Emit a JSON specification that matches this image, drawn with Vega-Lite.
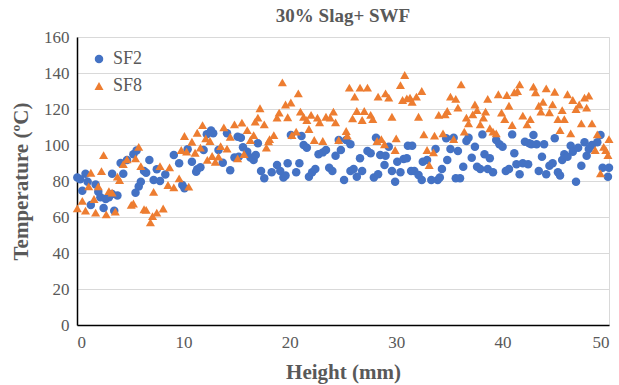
{
"$schema": "https://vega.github.io/schema/vega-lite/v6.json",
"autosize": {"type": "none"},
"width": 532,
"height": 288,
"padding": {"left": 77, "top": 37, "right": 10, "bottom": 60},
"background": "white",
"title": {"text": "30% Slag+ SWF", "font": "Liberation Serif", "fontSize": 19, "fontWeight": "bold", "color": "#595959", "offset": 2},
"config": {"view": {"stroke": "#d9d9d9"}},
"data": {"values": [
{"s":"SF2","h":0.03,"t":82},{"s":"SF2","h":0.3,"t":81},{"s":"SF2","h":0.8,"t":84},{"s":"SF2","h":1.0,"t":79.6},{"s":"SF2","h":0.5,"t":74.6},{"s":"SF2","h":1.75,"t":78},{"s":"SF2","h":2.0,"t":74},{"s":"SF2","h":2.2,"t":71},{"s":"SF2","h":2.7,"t":70},{"s":"SF2","h":3.0,"t":71},{"s":"SF2","h":3.3,"t":72.8},{"s":"SF2","h":3.8,"t":72},{"s":"SF2","h":1.3,"t":66.7},{"s":"SF2","h":2.5,"t":65},{"s":"SF2","h":3.5,"t":63.5},{"s":"SF2","h":3.3,"t":84},{"s":"SF2","h":4.1,"t":90},{"s":"SF2","h":4.35,"t":84},{"s":"SF2","h":4.7,"t":91.7},{"s":"SF2","h":5.3,"t":94.8},{"s":"SF2","h":5.6,"t":97},{"s":"SF2","h":6.8,"t":91.7},{"s":"SF2","h":6.3,"t":85.5},{"s":"SF2","h":6.5,"t":84.6},{"s":"SF2","h":6.0,"t":79.6},{"s":"SF2","h":5.8,"t":77},{"s":"SF2","h":5.5,"t":73.5},{"s":"SF2","h":7.2,"t":80.5},{"s":"SF2","h":7.5,"t":86.5},{"s":"SF2","h":7.8,"t":80},{"s":"SF2","h":8.3,"t":83.6},
{"s":"SF2","h":9.1,"t":94.4},{"s":"SF2","h":9.6,"t":89.8},{"s":"SF2","h":9.9,"t":77.8},{"s":"SF2","h":10.1,"t":76},{"s":"SF2","h":10.4,"t":97.6},{"s":"SF2","h":10.8,"t":90.7},{"s":"SF2","h":11.2,"t":85.2},{"s":"SF2","h":11.3,"t":86.5},{"s":"SF2","h":11.6,"t":87.6},{"s":"SF2","h":11.9,"t":97.2},{"s":"SF2","h":12.2,"t":106},{"s":"SF2","h":12.6,"t":108},{"s":"SF2","h":12.8,"t":106.5},{"s":"SF2","h":13.3,"t":97.2},{"s":"SF2","h":13.7,"t":90.2},{"s":"SF2","h":14.1,"t":106.5},{"s":"SF2","h":14.4,"t":86},{"s":"SF2","h":14.8,"t":93},{"s":"SF2","h":15.1,"t":104.6},{"s":"SF2","h":15.4,"t":104},{"s":"SF2","h":15.6,"t":98.7},{"s":"SF2","h":16.0,"t":96.3},{"s":"SF2","h":16.3,"t":93},{"s":"SF2","h":16.6,"t":91.7},{"s":"SF2","h":15.2,"t":93.5},
{"s":"SF2","h":17.0,"t":101},{"s":"SF2","h":16.8,"t":94.4},{"s":"SF2","h":17.3,"t":85.5},{"s":"SF2","h":17.6,"t":81.5},{"s":"SF2","h":18.3,"t":84.8},{"s":"SF2","h":18.8,"t":88.9},{"s":"SF2","h":19.1,"t":85.5},{"s":"SF2","h":19.4,"t":81.9},{"s":"SF2","h":19.6,"t":83},{"s":"SF2","h":19.8,"t":89.8},{"s":"SF2","h":20.1,"t":105.5},{"s":"SF2","h":20.6,"t":84.8},{"s":"SF2","h":20.9,"t":89.8},{"s":"SF2","h":21.1,"t":105},{"s":"SF2","h":21.3,"t":100},{"s":"SF2","h":21.6,"t":98.5},{"s":"SF2","h":21.8,"t":82.4},{"s":"SF2","h":22.1,"t":84.8},{"s":"SF2","h":22.4,"t":86.7},{"s":"SF2","h":22.7,"t":94.8},{"s":"SF2","h":23.1,"t":95.9},{"s":"SF2","h":23.4,"t":97.2},{"s":"SF2","h":23.7,"t":87.4},{"s":"SF2","h":24.0,"t":85.5},{"s":"SF2","h":24.3,"t":94},{"s":"SF2","h":24.6,"t":102.8},{"s":"SF2","h":24.8,"t":97.2},{"s":"SF2","h":25.1,"t":80.5},
{"s":"SF2","h":25.3,"t":102.8},{"s":"SF2","h":25.7,"t":100.4},{"s":"SF2","h":25.7,"t":85.5},{"s":"SF2","h":26.0,"t":86.7},{"s":"SF2","h":26.3,"t":82.4},{"s":"SF2","h":26.8,"t":85.5},{"s":"SF2","h":26.6,"t":92.6},{"s":"SF2","h":27.3,"t":96.7},{"s":"SF2","h":27.6,"t":95.4},{"s":"SF2","h":28.1,"t":104},{"s":"SF2","h":27.9,"t":81.9},{"s":"SF2","h":28.3,"t":83.7},{"s":"SF2","h":28.5,"t":94.4},{"s":"SF2","h":29.0,"t":94},{"s":"SF2","h":28.9,"t":88.9},{"s":"SF2","h":29.3,"t":99},{"s":"SF2","h":29.6,"t":85.5},{"s":"SF2","h":29.9,"t":79.6},{"s":"SF2","h":30.1,"t":90.7},{"s":"SF2","h":30.4,"t":84.8},{"s":"SF2","h":30.7,"t":92.2},{"s":"SF2","h":31.0,"t":92.6},{"s":"SF2","h":31.1,"t":99.6},{"s":"SF2","h":31.5,"t":99.6},{"s":"SF2","h":31.4,"t":85.5},{"s":"SF2","h":31.7,"t":85.5},{"s":"SF2","h":32.1,"t":83.3},{"s":"SF2","h":32.4,"t":80.5},{"s":"SF2","h":32.5,"t":90.7},{"s":"SF2","h":32.9,"t":91.7},{"s":"SF2","h":33.3,"t":80.5},
{"s":"SF2","h":33.7,"t":97.8},{"s":"SF2","h":33.9,"t":80.5},{"s":"SF2","h":34.1,"t":81.9},{"s":"SF2","h":34.3,"t":86.7},{"s":"SF2","h":34.8,"t":91.7},{"s":"SF2","h":35.1,"t":97.8},{"s":"SF2","h":34.7,"t":103.7},{"s":"SF2","h":35.4,"t":104},{"s":"SF2","h":35.8,"t":96.7},{"s":"SF2","h":35.6,"t":81.5},{"s":"SF2","h":36.0,"t":81.5},{"s":"SF2","h":36.3,"t":87.9},{"s":"SF2","h":36.6,"t":102.2},{"s":"SF2","h":36.8,"t":104},{"s":"SF2","h":37.1,"t":92.9},{"s":"SF2","h":37.4,"t":99},{"s":"SF2","h":37.6,"t":87.9},{"s":"SF2","h":37.9,"t":86.7},{"s":"SF2","h":38.1,"t":105.9},{"s":"SF2","h":38.3,"t":94.8},{"s":"SF2","h":38.6,"t":86.7},{"s":"SF2","h":38.8,"t":92.6},{"s":"SF2","h":39.1,"t":84.8},{"s":"SF2","h":39.4,"t":102.8},{"s":"SF2","h":39.7,"t":100.4},{"s":"SF2","h":40.0,"t":99},{"s":"SF2","h":40.3,"t":85.5},{"s":"SF2","h":40.6,"t":86.7},{"s":"SF2","h":40.9,"t":105.9},{"s":"SF2","h":41.1,"t":95.4},{"s":"SF2","h":41.3,"t":89.3},{"s":"SF2","h":41.6,"t":83.7},{"s":"SF2","h":41.9,"t":89.8},{"s":"SF2","h":42.1,"t":101.8},
{"s":"SF2","h":42.5,"t":101},{"s":"SF2","h":42.9,"t":105.5},{"s":"SF2","h":42.7,"t":100.4},{"s":"SF2","h":43.2,"t":100.4},{"s":"SF2","h":43.7,"t":93.5},{"s":"SF2","h":43.9,"t":100.4},{"s":"SF2","h":42.4,"t":89.3},{"s":"SF2","h":43.4,"t":85.5},{"s":"SF2","h":44.1,"t":83.7},{"s":"SF2","h":44.4,"t":88.5},{"s":"SF2","h":44.7,"t":89.8},{"s":"SF2","h":44.9,"t":103.7},{"s":"SF2","h":45.2,"t":84.8},{"s":"SF2","h":45.4,"t":83},{"s":"SF2","h":45.6,"t":91.7},{"s":"SF2","h":45.8,"t":94.8},{"s":"SF2","h":46.1,"t":93.5},{"s":"SF2","h":46.4,"t":99.6},{"s":"SF2","h":46.6,"t":96.3},{"s":"SF2","h":46.9,"t":79.6},{"s":"SF2","h":47.1,"t":98.5},{"s":"SF2","h":47.4,"t":88.5},{"s":"SF2","h":47.7,"t":101.5},{"s":"SF2","h":47.9,"t":94},{"s":"SF2","h":48.1,"t":97.8},{"s":"SF2","h":48.4,"t":100},{"s":"SF2","h":48.9,"t":101.5},{"s":"SF2","h":49.2,"t":105.5},{"s":"SF2","h":49.4,"t":87.4},{"s":"SF2","h":50.0,"t":87.4},{"s":"SF2","h":49.9,"t":82.4},
{"s":"SF8","h":2.5,"t":94.4},{"s":"SF8","h":1.3,"t":84.6},{"s":"SF8","h":2.3,"t":85.5},{"s":"SF8","h":1.1,"t":77},{"s":"SF8","h":2.0,"t":77},{"s":"SF8","h":3.0,"t":74.4},{"s":"SF8","h":3.3,"t":73.5},{"s":"SF8","h":1.6,"t":70},{"s":"SF8","h":0.5,"t":69},{"s":"SF8","h":0.03,"t":64.8},{"s":"SF8","h":0.8,"t":63.5},{"s":"SF8","h":1.75,"t":62.4},{"s":"SF8","h":2.75,"t":61.5},{"s":"SF8","h":3.6,"t":63},{"s":"SF8","h":3.8,"t":82.4},{"s":"SF8","h":4.0,"t":80.5},{"s":"SF8","h":4.35,"t":89.4},{"s":"SF8","h":4.7,"t":92},{"s":"SF8","h":5.5,"t":92.6},{"s":"SF8","h":5.8,"t":99},{"s":"SF8","h":6.0,"t":88.3},{"s":"SF8","h":7.8,"t":88.3},{"s":"SF8","h":7.2,"t":74},{"s":"SF8","h":5.1,"t":66.7},{"s":"SF8","h":5.3,"t":67.5},{"s":"SF8","h":6.3,"t":64.3},{"s":"SF8","h":6.5,"t":64},{"s":"SF8","h":7.1,"t":60.5},{"s":"SF8","h":6.9,"t":57},{"s":"SF8","h":7.5,"t":62.4},{"s":"SF8","h":8.1,"t":64.7},
{"s":"SF8","h":8.7,"t":87.6},{"s":"SF8","h":9.6,"t":81.5},{"s":"SF8","h":8.55,"t":77.8},{"s":"SF8","h":9.1,"t":76.5},{"s":"SF8","h":10.5,"t":76.9},{"s":"SF8","h":10.1,"t":105},{"s":"SF8","h":9.8,"t":97.2},{"s":"SF8","h":10.3,"t":96.3},{"s":"SF8","h":10.8,"t":101.8},{"s":"SF8","h":11.1,"t":95.7},{"s":"SF8","h":11.3,"t":106.8},{"s":"SF8","h":11.6,"t":98.5},{"s":"SF8","h":11.8,"t":111},{"s":"SF8","h":12.1,"t":103.7},{"s":"SF8","h":12.5,"t":102.2},{"s":"SF8","h":12.25,"t":91.7},{"s":"SF8","h":12.7,"t":93.9},{"s":"SF8","h":13.0,"t":90.7},{"s":"SF8","h":13.3,"t":93.5},{"s":"SF8","h":13.5,"t":99.4},{"s":"SF8","h":13.8,"t":109.8},{"s":"SF8","h":14.1,"t":98},{"s":"SF8","h":14.4,"t":104.6},{"s":"SF8","h":14.8,"t":111.5},{"s":"SF8","h":15.1,"t":92.6},{"s":"SF8","h":15.5,"t":112.4},{"s":"SF8","h":15.7,"t":95},{"s":"SF8","h":16.0,"t":108.3},{"s":"SF8","h":16.3,"t":102.8},{"s":"SF8","h":16.6,"t":105.5},{"s":"SF8","h":16.75,"t":113},
{"s":"SF8","h":19.3,"t":134.8},{"s":"SF8","h":20.8,"t":128.7},{"s":"SF8","h":20.1,"t":123.6},{"s":"SF8","h":19.6,"t":122.5},{"s":"SF8","h":17.2,"t":120.4},{"s":"SF8","h":17.0,"t":115.2},{"s":"SF8","h":17.6,"t":111.5},{"s":"SF8","h":19.0,"t":118},{"s":"SF8","h":18.8,"t":115.2},{"s":"SF8","h":19.8,"t":115.4},{"s":"SF8","h":21.0,"t":118.5},{"s":"SF8","h":21.3,"t":115.7},{"s":"SF8","h":21.6,"t":113.9},{"s":"SF8","h":22.0,"t":116.7},{"s":"SF8","h":22.6,"t":115.2},{"s":"SF8","h":22.8,"t":112.6},{"s":"SF8","h":23.4,"t":115.7},{"s":"SF8","h":23.8,"t":115.2},{"s":"SF8","h":24.1,"t":118.5},{"s":"SF8","h":24.3,"t":112.6},{"s":"SF8","h":21.8,"t":108.9},{"s":"SF8","h":20.6,"t":107.4},{"s":"SF8","h":20.2,"t":105.5},{"s":"SF8","h":18.5,"t":105.5},{"s":"SF8","h":18.1,"t":103.3},{"s":"SF8","h":18.0,"t":102},{"s":"SF8","h":17.8,"t":98.5},{"s":"SF8","h":22.3,"t":102.8},{"s":"SF8","h":23.1,"t":102.2},{"s":"SF8","h":24.6,"t":102.8},
{"s":"SF8","h":25.6,"t":131.9},{"s":"SF8","h":26.1,"t":126.9},{"s":"SF8","h":26.6,"t":131.9},{"s":"SF8","h":27.3,"t":131.9},{"s":"SF8","h":26.3,"t":118.9},{"s":"SF8","h":25.9,"t":114.8},{"s":"SF8","h":26.8,"t":113.9},{"s":"SF8","h":27.0,"t":118.9},{"s":"SF8","h":27.6,"t":116.7},{"s":"SF8","h":27.8,"t":114.4},{"s":"SF8","h":25.3,"t":107.8},{"s":"SF8","h":25.4,"t":105.2},{"s":"SF8","h":28.3,"t":126.9},{"s":"SF8","h":29.0,"t":128.7},{"s":"SF8","h":29.3,"t":126.3},{"s":"SF8","h":29.6,"t":115.7},{"s":"SF8","h":30.8,"t":138.9},{"s":"SF8","h":30.4,"t":133.3},{"s":"SF8","h":30.6,"t":125},{"s":"SF8","h":31.0,"t":125.9},{"s":"SF8","h":31.3,"t":126.3},{"s":"SF8","h":31.5,"t":124},{"s":"SF8","h":31.9,"t":126.9},{"s":"SF8","h":32.4,"t":130},{"s":"SF8","h":32.1,"t":115.7},{"s":"SF8","h":28.2,"t":102.2},{"s":"SF8","h":28.6,"t":103.3},{"s":"SF8","h":28.9,"t":100.4},{"s":"SF8","h":30.0,"t":103.7},{"s":"SF8","h":29.9,"t":97.2},{"s":"SF8","h":32.6,"t":105.9},{"s":"SF8","h":32.9,"t":97.2},{"s":"SF8","h":33.1,"t":88.9},{"s":"SF8","h":33.5,"t":95.9},{"s":"SF8","h":33.6,"t":105.2},
{"s":"SF8","h":36.1,"t":133.7},{"s":"SF8","h":35.1,"t":126.9},{"s":"SF8","h":35.6,"t":125.6},{"s":"SF8","h":35.8,"t":120.8},{"s":"SF8","h":34.8,"t":118.9},{"s":"SF8","h":34.6,"t":117},{"s":"SF8","h":34.0,"t":116.7},{"s":"SF8","h":34.4,"t":106.5},{"s":"SF8","h":35.4,"t":103.3},{"s":"SF8","h":36.4,"t":107.4},{"s":"SF8","h":36.6,"t":115.2},{"s":"SF8","h":36.8,"t":112},{"s":"SF8","h":37.2,"t":117},{"s":"SF8","h":37.4,"t":122.5},{"s":"SF8","h":37.6,"t":119.4},{"s":"SF8","h":37.9,"t":111.5},{"s":"SF8","h":38.2,"t":115.2},{"s":"SF8","h":38.4,"t":118.5},{"s":"SF8","h":38.6,"t":125.6},{"s":"SF8","h":38.8,"t":109.3},{"s":"SF8","h":39.1,"t":107.4},{"s":"SF8","h":39.4,"t":106.5},{"s":"SF8","h":39.6,"t":128.2},{"s":"SF8","h":39.9,"t":118},{"s":"SF8","h":40.2,"t":114.4},{"s":"SF8","h":40.4,"t":127.8},{"s":"SF8","h":40.6,"t":121.8},{"s":"SF8","h":40.9,"t":111.1},{"s":"SF8","h":41.1,"t":129.3},{"s":"SF8","h":41.4,"t":130},{"s":"SF8","h":41.6,"t":133.7},{"s":"SF8","h":41.9,"t":116.3},
{"s":"SF8","h":42.9,"t":132.4},{"s":"SF8","h":43.1,"t":129.3},{"s":"SF8","h":44.1,"t":131.5},{"s":"SF8","h":44.9,"t":129.6},{"s":"SF8","h":43.4,"t":121.8},{"s":"SF8","h":43.8,"t":124},{"s":"SF8","h":44.7,"t":122.6},{"s":"SF8","h":43.6,"t":118.5},{"s":"SF8","h":44.4,"t":118.2},{"s":"SF8","h":42.6,"t":114.4},{"s":"SF8","h":42.3,"t":111.5},{"s":"SF8","h":45.6,"t":119.4},{"s":"SF8","h":46.1,"t":128.2},{"s":"SF8","h":46.6,"t":125},{"s":"SF8","h":47.2,"t":122.5},{"s":"SF8","h":47.7,"t":126.3},{"s":"SF8","h":48.1,"t":127.4},{"s":"SF8","h":46.9,"t":120},{"s":"SF8","h":47.9,"t":120.8},{"s":"SF8","h":45.2,"t":114.4},{"s":"SF8","h":45.8,"t":114.4},{"s":"SF8","h":45.4,"t":108.3},{"s":"SF8","h":46.4,"t":106.5},{"s":"SF8","h":47.4,"t":112},{"s":"SF8","h":48.4,"t":112},{"s":"SF8","h":48.9,"t":105.9},{"s":"SF8","h":48.7,"t":97.2},{"s":"SF8","h":49.5,"t":99},{"s":"SF8","h":49.7,"t":97.2},{"s":"SF8","h":49.9,"t":94.4},{"s":"SF8","h":50.0,"t":103.3},{"s":"SF8","h":49.2,"t":84.2}
]},
"mark": {"type": "point", "filled": true, "opacity": 1},
"encoding": {
"x": {"field": "h", "type": "quantitative", "title": "Height (mm)",
  "scale": {"domain": [0, 50], "nice": false},
  "axis": {"values": [0, 10, 20, 30, 40, 50], "grid": false, "ticks": false, "domainColor": "#000000", "domainWidth": 1.5,
    "labelFont": "Liberation Serif", "labelFontSize": 17, "labelColor": "#595959", "labelPadding": 9,
    "titleFont": "Liberation Serif", "titleFontSize": 21, "titleFontWeight": "bold", "titleColor": "#595959", "titlePadding": 11}},
"y": {"field": "t", "type": "quantitative", "title": "Temperature (ºC)",
  "scale": {"domain": [0, 160], "nice": false},
  "axis": {"values": [0, 20, 40, 60, 80, 100, 120, 140, 160], "grid": true, "gridColor": "#d9d9d9", "ticks": false, "domainColor": "#000000", "domainWidth": 1.5,
    "labelFont": "Liberation Serif", "labelFontSize": 17, "labelColor": "#595959", "labelPadding": 8,
    "titleFont": "Liberation Serif", "titleFontSize": 21, "titleFontWeight": "bold", "titleColor": "#595959", "titlePadding": 12}},
"color": {"field": "s", "type": "nominal", "scale": {"domain": ["SF2", "SF8"], "range": ["#4472C4", "#ED7D31"]},
  "legend": {"title": null, "orient": "none", "legendX": 13, "legendY": 13, "padding": 0, "rowPadding": 9, "symbolSize": 75,
    "labelFont": "Liberation Serif", "labelFontSize": 18, "labelColor": "#595959", "labelOffset": 5}},
"shape": {"field": "s", "type": "nominal", "scale": {"domain": ["SF2", "SF8"], "range": ["circle", "triangle-up"]}},
"size": {"field": "s", "type": "nominal", "scale": {"domain": ["SF2", "SF8"], "range": [72, 82]}, "legend": null}
}
}
